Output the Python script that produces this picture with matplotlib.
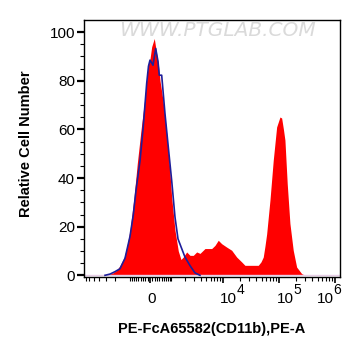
import numpy as np
import matplotlib
matplotlib.use('Agg')
import matplotlib.pyplot as plt
from matplotlib.transforms import ScaledTranslation

plt.rcParams['font.family'] = ['Liberation Sans', 'DejaVu Sans']

# stained sample (red fill)
pe_red = [-7530, -2726, -2497, -2183, -1840, -1574, -1267, -1095, -919, -707,
          -547, -379, -207, -70, 0, 70, 178, 279, 349, 424, 561, 657, 759, 881,
          1016, 1220, 1447, 1651, 1840, 2153, 2497, 2887, 3344, 3851, 4754,
          6300, 7220, 8280, 9530, 11720, 14410, 17710, 21760, 24920, 33270,
          43100, 48200, 52950, 56800, 60900, 69800, 79900, 91900, 105300,
          112900, 121600, 129300, 142100, 158800, 181900, 209300, 257000,
          294800, 1245000]
count_red = [0, 0, 0.5, 1, 2, 4, 7.5, 12, 18.5, 32,
             46, 59.7, 73.4, 87, 89, 94, 97.4, 91, 87, 80, 72, 65, 57, 46,
             32, 18.5, 10, 6.5, 7.5, 9.6, 8.2, 8.2, 9.6, 9, 11,
             11, 12.3, 14.4, 13, 11.6, 10.3, 7.5, 5.5, 4.1, 4.1,
             4.1, 5.5, 7.5, 12, 17, 30.9, 47.3, 61, 65.1,
             64.7, 60, 55.6, 37.7, 21.3, 10.3, 3.4, 0.7,
             0, 0]

# control (blue line)
pe_blue = [-3108, -2497, -1992, -1574, -1220, -919, -742, -608, -424, -292,
           -136, -62, 0, 62, 124, 237, 335, 392, 500, 657, 826, 1016, 1220,
           1424, 1708, 1992, 2497, 3108, 3851]
count_blue = [0, 0.5, 1.5, 2.7, 7, 16, 25, 35, 47, 60,
              79, 86, 88.5, 87.5, 86.4, 93.3, 88, 82.3, 82.3, 66.5, 52.8, 39, 24,
              15, 11, 7.5, 4, 1, 0]

major_x = [0, 1e4, 1e5, 1e6]
major_base = ['0', '10', '10', '10']
major_exp = ['', '4', '5', '6']
label_shift_px = [-3, -3, -2, -18]

C = 1000.0


def forward(x):
    return np.arcsinh(np.asarray(x) / C)


def inverse(u):
    return C * np.sinh(np.asarray(u))


fig = plt.figure(figsize=(3.61, 3.56), dpi=100)
ax = fig.add_axes([0.2327, 0.2219, 0.709, 0.7219])
ax.set_xscale('function', functions=(forward, inverse))

ax.fill_between(pe_red, count_red, 0, color='#ff0000', lw=0)
ax.axhline(0, color='#e6cde6', lw=1, zorder=1)
ax.plot(pe_blue, count_blue, color='#1e1e9a', lw=1.2)

ax.set_xlim(-7530, 1245000)
ax.set_ylim(-0.7, 105)

# x ticks
minor_x = []
for k in range(1, 10):
    minor_x += [-k * 100, k * 100, k * 1000]
for k in range(2, 8):
    minor_x.append(-k * 1000)
for k in range(2, 10):
    minor_x += [k * 1e4, k * 1e5]
ax.set_xticks(major_x)
ax.set_xticklabels([])
ax.set_xticks(minor_x, minor=True)
ax.tick_params(axis='x', which='major', length=4, width=1.2)
ax.tick_params(axis='x', which='minor', length=3, width=0.8)

# FlowJo style labels: "10" with a near full size exponent
xtrans = ax.get_xaxis_transform()
for xv, base, ex, dx in zip(major_x, major_base, major_exp, label_shift_px):
    t = xtrans + ScaledTranslation(dx / 100, 0, fig.dpi_scale_trans)
    ax.text(xv, -0.101, base, transform=t, ha='left', va='baseline', fontsize=11)
    if ex:
        t2 = xtrans + ScaledTranslation((dx + 17) / 100, 0, fig.dpi_scale_trans)
        ax.text(xv, -0.068, ex, transform=t2, ha='left', va='baseline', fontsize=10)

# y ticks
ax.set_yticks([0, 20, 40, 60, 80, 100])
ax.set_yticks(np.arange(5, 105, 5), minor=True)
ax.tick_params(axis='y', which='major', length=5, width=1.6, labelsize=11, pad=1.5)
ax.tick_params(axis='y', which='minor', length=3, width=0.8)

for sp in ax.spines.values():
    sp.set_linewidth(1.0)

ax.set_xlabel('PE-FcA65582(CD11b),PE-A', fontsize=10.5, fontweight='bold')
ax.set_ylabel('Relative Cell Number', fontsize=10.5, fontweight='bold')
ax.xaxis.set_label_coords(0.5, -0.175)
ax.yaxis.set_label_coords(-0.2, 0.517)

ax.text(0.521, 0.961, 'WWW.PTGLAB.COM', transform=ax.transAxes, ha='center', va='center',
        fontsize=14.5, color='#dadada', style='italic', family='DejaVu Sans')

fig.savefig('out.png', dpi=100)
